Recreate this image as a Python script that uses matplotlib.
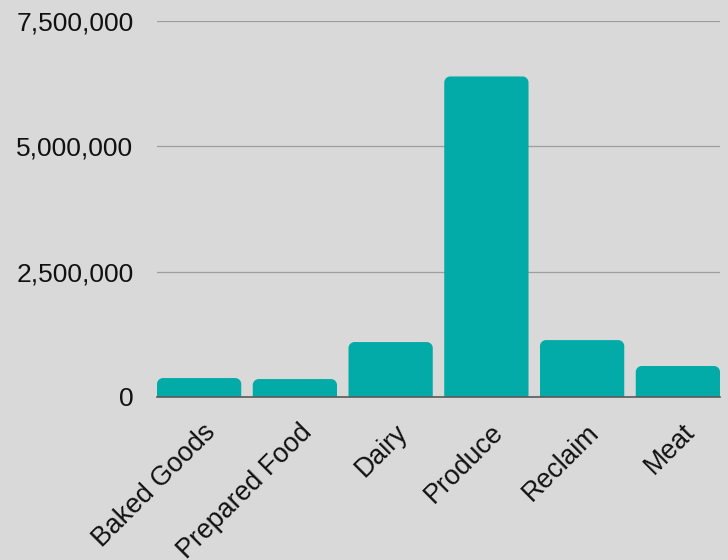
import matplotlib
matplotlib.use("Agg")
import matplotlib.pyplot as plt
from matplotlib.path import Path
from matplotlib.patches import PathPatch
from matplotlib.ticker import FuncFormatter
import matplotlib.transforms as mtransforms

categories = ["Baked Goods", "Prepared Food", "Dairy", "Produce", "Reclaim", "Meat"]
values = [378000, 358000, 1096000, 6394000, 1135000, 618000]
yticks = [0, 2500000, 5000000, 7500000]

BG = "#d9d9d9"
BAR = "#02aba7"

plt.rcParams['font.family'] = ['Liberation Sans', 'DejaVu Sans']

fig = plt.figure(figsize=(7.28, 5.6), dpi=100, facecolor=BG)
ax = fig.add_axes([157/728, 1-397/560, (720-157)/728, (397-21)/560])
ax.set_facecolor(BG)

width = 0.88
bars = ax.bar(range(len(categories)), values, width=width, color=BAR, zorder=3)

ax.set_xlim(-0.44, len(categories) - 1 + 0.44)
ax.set_ylim(0, 7500000)

# rounded top corners
fig.canvas.draw()
px_x = (ax.get_xlim()[1]-ax.get_xlim()[0]) / ax.bbox.width
px_y = (ax.get_ylim()[1]-ax.get_ylim()[0]) / ax.bbox.height
r = 6
for b in bars:
    x0, y0 = b.get_x(), b.get_y()
    w, h = b.get_width(), b.get_height()
    rx, ry = r*px_x, min(r*px_y, h)
    k = 0.5523
    verts = [(x0, y0), (x0, y0+h-ry),
             (x0, y0+h-ry+k*ry), (x0+rx-k*rx, y0+h), (x0+rx, y0+h),
             (x0+w-rx, y0+h),
             (x0+w-rx+k*rx, y0+h), (x0+w, y0+h-ry+k*ry), (x0+w, y0+h-ry),
             (x0+w, y0), (x0, y0)]
    codes = [Path.MOVETO, Path.LINETO,
             Path.CURVE4, Path.CURVE4, Path.CURVE4,
             Path.LINETO,
             Path.CURVE4, Path.CURVE4, Path.CURVE4,
             Path.LINETO, Path.CLOSEPOLY]
    ax.add_patch(PathPatch(Path(verts, codes), facecolor=BAR, edgecolor='none', zorder=3))
    b.remove()

ax.set_yticks(yticks)
ax.yaxis.set_major_formatter(FuncFormatter(lambda v, p: f"{int(v):,}"))
ax.grid(axis='y', color='#9e9e9e', linewidth=0.9, zorder=0)
for s in ['top', 'right', 'left']:
    ax.spines[s].set_visible(False)
ax.spines['bottom'].set_color('#5a5a5a')
ax.spines['bottom'].set_linewidth(1.2)
ax.spines['bottom'].set_zorder(4)
ax.tick_params(axis='y', length=0, pad=17, labelsize=19, colors='#111111')
ax.tick_params(axis='x', length=0, pad=6, labelsize=19.3, colors='#111111')

ax.set_xticks(range(len(categories)))
ax.set_xticklabels(categories, rotation=45, ha='right', va='center', rotation_mode='anchor')
offset = mtransforms.ScaledTranslation(13/100, -23/100, fig.dpi_scale_trans)
for lab in ax.get_xticklabels():
    lab.set_transform(lab.get_transform() + offset)

fig.savefig("out.png", dpi=100, facecolor=BG)
